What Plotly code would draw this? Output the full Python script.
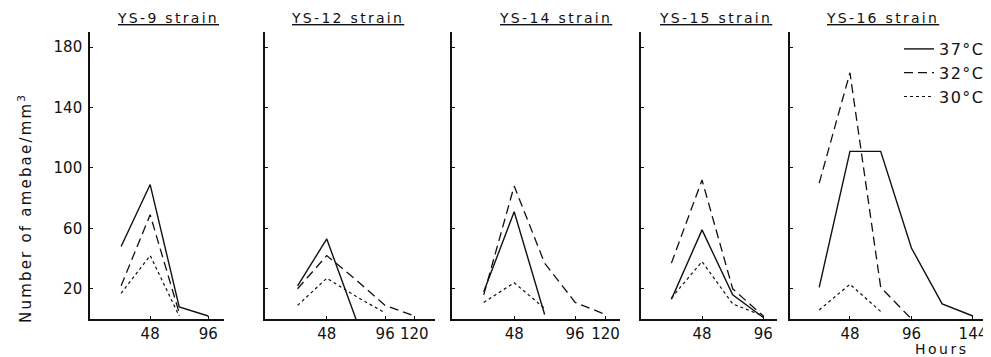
import plotly.graph_objects as go

strains = ["YS-9", "YS-12", "YS-14", "YS-15", "YS-16"]
temps = ["37°C", "32°C", "30°C"]

# hours and amebae counts per strain, per temperature
hours_37 = [[24, 48, 72, 96], [24, 48, 72], [24, 48, 72], [24, 48, 72, 96], [24, 48, 72, 96, 120, 144]]
count_37 = [[48, 89, 8, 2], [22, 53, 0], [18, 71, 3], [13, 59, 16, 1], [21, 111, 111, 47, 10, 2]]

hours_32 = [[24, 48, 72], [24, 48, 72, 96, 120], [24, 48, 72, 96, 120], [24, 48, 72, 96], [24, 48, 72, 96]]
count_32 = [[22, 69, 4], [20, 42, 26, 9, 2], [16, 88, 37, 11, 3], [37, 92, 20, 2], [90, 163, 21, 0]]

hours_30 = [[24, 48, 72], [24, 48, 72, 96], [24, 48, 72], [24, 48, 72, 96], [24, 48, 72]]
count_30 = [[17, 42, 2], [9, 27, 15, 4], [11, 24, 7], [14, 38, 10, 2], [6, 23, 5]]

x_ticks = [[48, 96], [48, 96, 120], [48, 96, 120], [48, 96], [48, 96, 144]]
y_ticks = [20, 60, 100, 140, 180]

# the page body has an 8px margin: shrink the figure and offset coordinates
OFF = 8
W, H = 991 - OFF, 357 - OFF
panel_px = [(90, 224), (265, 435), (452, 620), (641, 777), (790, 987)]
x_ranges = [[-1.7, 109], [-2.8, 137], [-1, 131.4], [0.2, 106.7], [1.2, 155]]
title_cx = [168, 347, 555, 715, 882]
y_bot_px, y_top_px = 319, 32


def px_x(p):
    return (p - OFF) / W


def px_y(p):
    return (H - (p - OFF)) / H


FONT = "DejaVu Sans"
styles = [dict(color="#111", width=1.4, dash="solid"),
          dict(color="#111", width=1.3, dash="9px,5px"),
          dict(color="#111", width=1.2, dash="dot")]

fig = go.Figure()
all_hours = [hours_37, hours_32, hours_30]
all_counts = [count_37, count_32, count_30]

for i in range(len(strains)):
    xa = "x" if i == 0 else f"x{i+1}"
    ya = "y" if i == 0 else f"y{i+1}"
    for t in range(3):
        fig.add_trace(go.Scatter(
            x=all_hours[t][i], y=all_counts[t][i], mode="lines",
            line=styles[t],
            name=f'<span style="letter-spacing:1.5px">{temps[t]}</span>',
            legendgroup=temps[t],
            showlegend=(i == 0), xaxis=xa, yaxis=ya, hoverinfo="skip"))

layout = dict(
    width=W, height=H, autosize=False,
    margin=dict(l=0, r=0, t=0, b=0),
    paper_bgcolor="white", plot_bgcolor="white",
    font=dict(family=FONT, size=14, color="#111"),
    showlegend=True,
    legend=dict(x=px_x(899), y=px_y(32), xanchor="left", yanchor="top",
                bgcolor="rgba(0,0,0,0)", font=dict(size=16, family=FONT),
                tracegroupgap=0, itemwidth=30),
)

ydom = [px_y(y_bot_px), px_y(y_top_px)]
for i in range(len(strains)):
    sx = "" if i == 0 else str(i + 1)
    x0, x1 = panel_px[i]
    layout[f"xaxis{sx}"] = dict(
        domain=[px_x(x0), px_x(x1)], range=x_ranges[i], anchor=f"y{sx}",
        tickmode="array", tickvals=x_ticks[i], ticktext=[str(v) for v in x_ticks[i]],
        ticks="inside", ticklen=3, tickcolor="#111", showline=True, linecolor="#111",
        linewidth=1.6, showgrid=False, zeroline=False,
        tickfont=dict(size=15, family=FONT))
    layout[f"yaxis{sx}"] = dict(
        domain=ydom, range=[0, 190], anchor=f"x{sx}",
        tickmode="array", tickvals=y_ticks,
        showticklabels=(i == 0), ticks="inside", ticklen=3, tickcolor="#111",
        showline=True, linecolor="#111", linewidth=1.6, showgrid=False, zeroline=False,
        tickfont=dict(size=15, family=FONT), ticklabelstandoff=3)

fig.update_layout(**layout)

ann = []
for i, s in enumerate(strains):
    ann.append(dict(
        text=f'<span style="text-decoration:underline;letter-spacing:2.3px">{s} strain</span>',
        x=px_x(title_cx[i]), y=px_y(18), xref="paper", yref="paper",
        xanchor="center", yanchor="middle", showarrow=False,
        font=dict(size=14, family=FONT, color="#111")))
ann.append(dict(text='<span style="letter-spacing:2.2px">Number of amebae/mm<sup>3</sup></span>',
                x=px_x(25), y=px_y(208), xref="paper", yref="paper",
                textangle=-90, showarrow=False, xanchor="center", yanchor="middle",
                font=dict(size=15, family=FONT, color="#111")))
ann.append(dict(text='<span style="letter-spacing:2.5px">Hours</span>',
                x=px_x(942), y=px_y(349), xref="paper", yref="paper",
                showarrow=False, xanchor="center", yanchor="middle",
                font=dict(size=14, family=FONT, color="#111")))
fig.update_layout(annotations=ann)

fig.write_html("out.html")
